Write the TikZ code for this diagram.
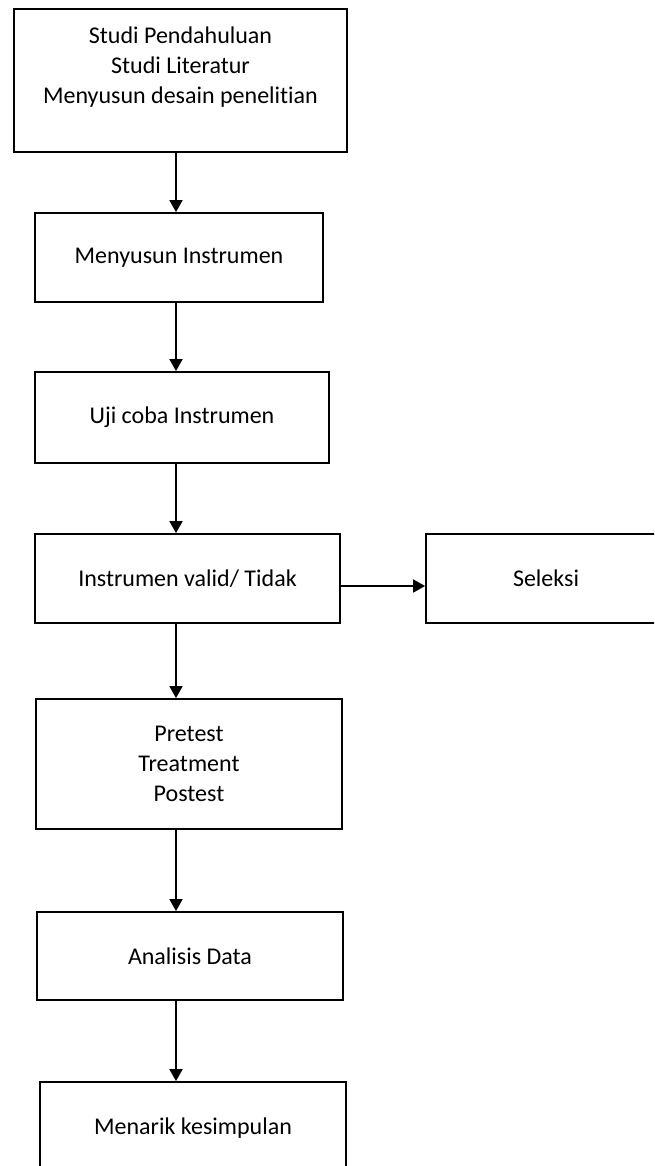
\documentclass[tikz,border=0pt]{standalone}
\usepackage{fontspec}
\setmainfont[RawFeature={-liga}]{Carlito}
\usetikzlibrary{arrows.meta}
\begin{document}
\begin{tikzpicture}[x=1pt,y=-1pt,
  box/.style={draw=black, line width=1.8pt, rectangle, inner sep=0pt, align=center,
    font=\fontsize{24}{30}\selectfont},
  txt/.style={inner sep=0pt, align=center, font=\fontsize{24}{30}\selectfont},
  arr/.style={draw=black, line width=1.8pt, -{Triangle[width=13pt,length=12pt]}}]
\useasboundingbox (0,0) rectangle (654,1166);
\clip (0,0) rectangle (654,1166);
\fill[white] (0,0) rectangle (654,1166);
\coordinate (ax) at (176,0);
\coordinate (ay) at (0,586);
\node[box, minimum width=333pt, minimum height=143pt] (b1) at (180.5,80.5) {};
\node[txt] (t1) at (180.5,67) {Studi Pendahuluan\\Studi Literatur\\Menyusun desain penelitian};
\node[box, minimum width=288pt, minimum height=89pt] (b2) at (179,257.5) {Menyusun Instrumen};
\node[box, minimum width=294pt, minimum height=91pt] (b3) at (182,417.5) {Uji coba Instrumen};
\node[box, minimum width=305pt, minimum height=89pt] (b4) at (187.5,578.5) {Instrumen valid/ Tidak};
\node[box, minimum width=240pt, minimum height=89pt] (s) at (546,578.5) {Seleksi};
\node[box, minimum width=306pt, minimum height=130pt] (b5) at (189,764) {Pretest\\Treatment\\Postest};
\node[box, minimum width=306pt, minimum height=88pt] (b6) at (190,956) {Analisis Data};
\node[box, minimum width=306pt, minimum height=92pt] (b7) at (193,1128) {Menarik kesimpulan};
\draw[arr] (b1.south -| ax) -- (b2.north -| ax);
\draw[arr] (b2.south -| ax) -- (b3.north -| ax);
\draw[arr] (b3.south -| ax) -- (b4.north -| ax);
\draw[arr] (b4.east |- ay) -- (s.west |- ay);
\draw[arr] (b4.south -| ax) -- (b5.north -| ax);
\draw[arr] (b5.south -| ax) -- (b6.north -| ax);
\draw[arr] (b6.south -| ax) -- (b7.north -| ax);
\end{tikzpicture}
\end{document}
